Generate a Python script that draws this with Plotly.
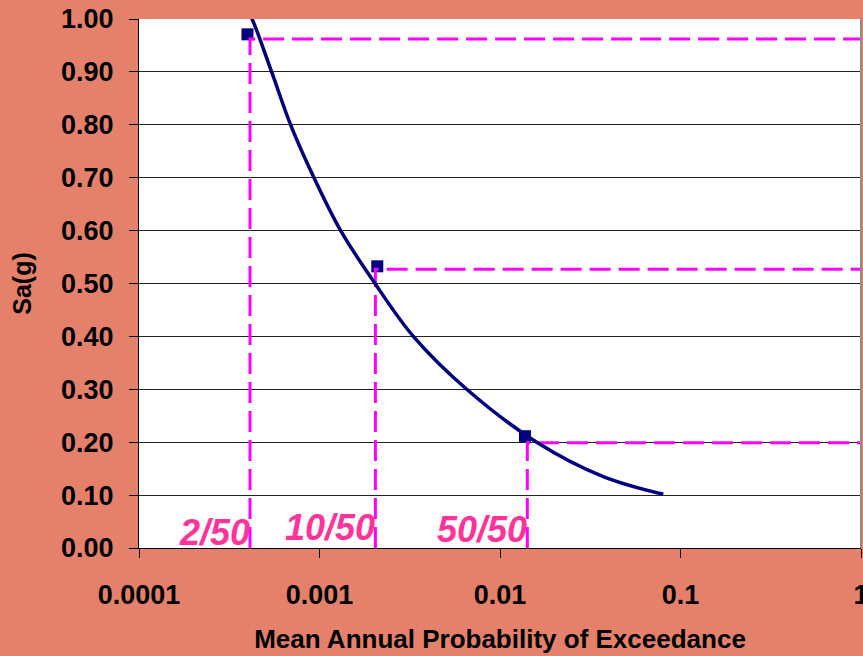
import plotly.graph_objects as go
import math

# ---- data ----
curve_x = [4.03e-4, 4.23e-4, 5.43e-4, 6.92e-4, 9.32e-4, 1.31e-3, 2.03e-3, 3.31e-3, 6.54e-3, 1.597e-2, 3.735e-2, 8.03e-2]
curve_y = [1.012, 1.00, 0.90, 0.80, 0.70, 0.60, 0.50, 0.40, 0.30, 0.20, 0.135, 0.1015]

point_x = [3.99e-4, 2.09e-3, 1.375e-2]
point_y = [0.971, 0.5325, 0.2113]

hazard_x = [4.12e-4, 2.04e-3, 1.417e-2]
hazard_y = [0.962, 0.527, 0.199]
hazard_labels = ["2/50", "10/50", "50/50"]
label_y = [0.030, 0.038, 0.035]

x_tickvals = [0.0001, 0.001, 0.01, 0.1, 1]
x_ticktext = ["0.0001", "0.001", "0.01", "0.1", "1"]
y_tickvals = [i / 10 for i in range(11)]
y_ticktext = ["%.2f" % v for v in y_tickvals]

BG = "#E5816A"
NAVY = "#000080"
MAGENTA = "#FF00FF"
PINK = "#FF3399"
FONT = "Liberation Sans, Arial, sans-serif"

fig = go.Figure()

# markers
fig.add_trace(go.Scatter(x=point_x, y=point_y, mode="markers",
                         marker=dict(symbol="square", size=12, color=NAVY),
                         showlegend=False, cliponaxis=False))

# dashed reference lines
for hx, hy in zip(hazard_x, hazard_y):
    fig.add_trace(go.Scatter(x=[hx, hx, x_tickvals[-1]], y=[0, hy, hy], mode="lines",
                             line=dict(color=MAGENTA, width=3, dash="21px,8px"),
                             showlegend=False))

# hazard curve
fig.add_trace(go.Scatter(x=curve_x, y=curve_y, mode="lines",
                         line=dict(color=NAVY, width=3.5, shape="spline", smoothing=1.0),
                         showlegend=False))

# labels
for hx, lab, ly in zip(hazard_x, hazard_labels, label_y):
    fig.add_annotation(x=math.log10(hx), y=ly, xref="x", yref="y",
                       text="<b><i>%s</i></b>" % lab, showarrow=False,
                       xanchor="right", yanchor="middle", xshift=2,
                       font=dict(family=FONT, size=36, color=PINK))

# right border of plot area
fig.add_shape(type="line", xref="paper", yref="paper", x0=1, x1=1, y0=0, y1=1,
              line=dict(color="#8C8C8C", width=2))

fig.update_layout(
    width=863, height=656,
    paper_bgcolor=BG, plot_bgcolor="white",
    margin=dict(l=139, r=2, t=19, b=108, autoexpand=False),
    font=dict(family=FONT, color="black"),
    showlegend=False,
    xaxis=dict(type="log", range=[-4, 0], tickvals=x_tickvals, ticktext=x_ticktext,
               automargin=False,
               showgrid=False, zeroline=False, showline=True, linecolor="black", linewidth=1,
               ticks="outside", ticklen=9, tickcolor="black", tickwidth=1,
               tickfont=dict(family=FONT, size=27, color="black", weight="bold"),
               ticklabelstandoff=14, ticklabeloverflow="allow",
               title=dict(text="<b>Mean Annual Probability of Exceedance</b>",
                          font=dict(family=FONT, size=26, color="black"), standoff=20)),
    yaxis=dict(range=[0, 1], tickvals=y_tickvals, ticktext=y_ticktext,
               automargin=False,
               showgrid=True, gridcolor="#222222", gridwidth=1, zeroline=False,
               showline=True, linecolor="black", linewidth=1,
               ticks="outside", ticklen=9, tickcolor="black", tickwidth=1,
               tickfont=dict(family=FONT, size=27, color="black", weight="bold"),
               ticklabelstandoff=10,
               title=dict(text="<b>Sa(g)</b>",
                          font=dict(family=FONT, size=25, color="black"), standoff=22)),
)

fig.write_html("out.html")
